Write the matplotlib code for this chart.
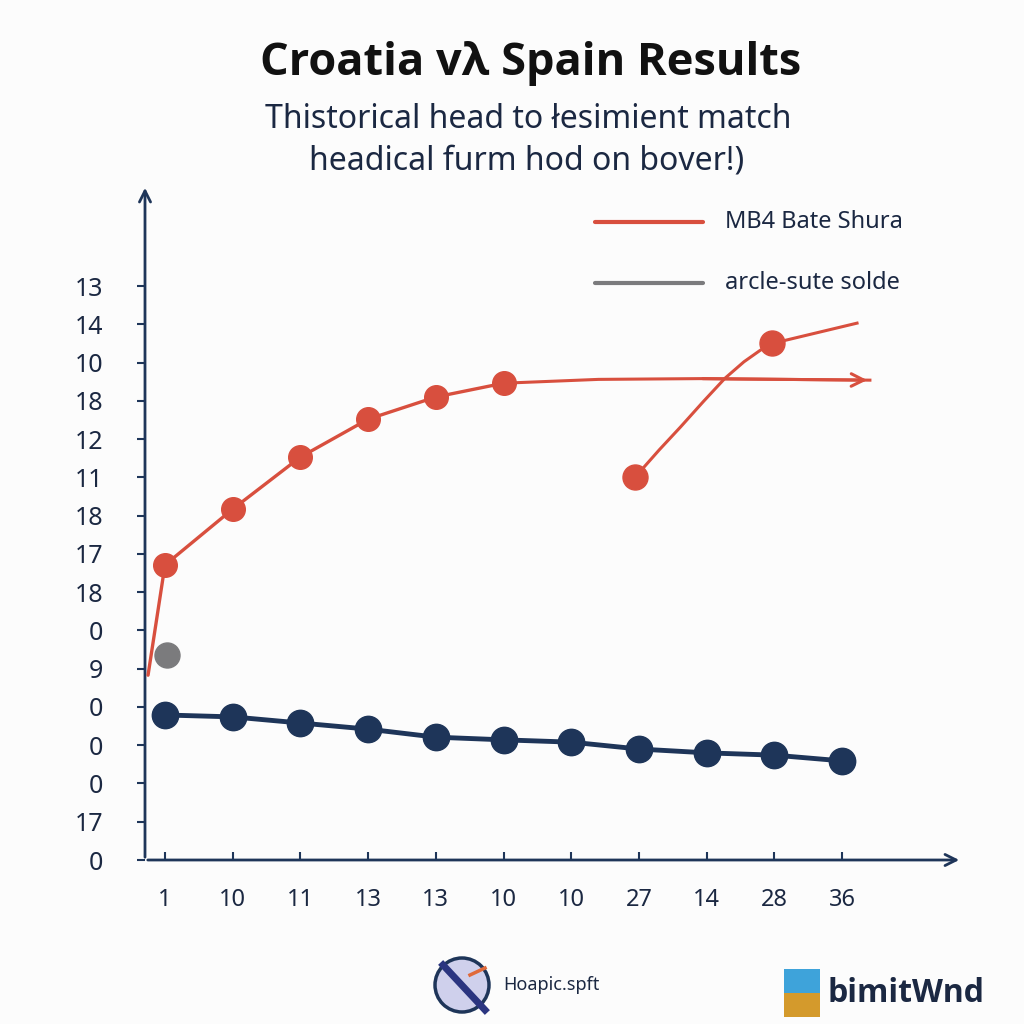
import matplotlib
matplotlib.use("Agg")
import matplotlib.pyplot as plt
from matplotlib.patches import Circle, Rectangle

# ---- data ----
x_labels = ["1", "10", "11", "13", "13", "10", "10", "27", "14", "28", "36"]
y_labels = ["0", "17", "0", "0", "0", "9", "0", "18", "17", "18", "11", "12", "18", "10", "14", "13"]

red_x = [-0.25, 0, 1, 2, 3, 4, 5]
red_y = [4.83, 7.71, 9.17, 10.53, 11.52, 12.10, 12.46]
red_tail_x = [5, 6.4, 7.9, 10.41]
red_tail_y = [12.46, 12.56, 12.58, 12.54]
red_marker_x = [0, 1, 2, 3, 4, 5]
red_marker_y = [7.71, 9.17, 10.53, 11.52, 12.10, 12.46]

red2_x = [6.94, 7.3, 7.61, 7.95, 8.27, 8.55, 8.79, 8.97, 10.22]
red2_y = [10.0, 10.72, 11.31, 11.98, 12.59, 13.02, 13.32, 13.5, 14.03]
red2_marker_x = [6.94, 8.97]
red2_marker_y = [10.0, 13.5]

gray_x = [0.03]
gray_y = [5.36]

navy_x = list(range(11))
navy_y = [3.79, 3.74, 3.58, 3.42, 3.21, 3.14, 3.08, 2.90, 2.80, 2.74, 2.59]

legend_labels = ["MB4 Bate Shura", "arcle-sute solde"]

RED = "#d84f3e"
NAVY = "#1e3559"
GRAY = "#7b7b7d"
TXT = "#1b2842"

plt.rcParams['font.family'] = ['Noto Sans', 'DejaVu Sans']

W = 1024
fig = plt.figure(figsize=(10.24, 10.24), dpi=100, facecolor="#fcfcfc")

def fx(px):
    return px / W

def fy(py):
    return 1 - py / W

# axes spanning px x 145..962, y 185..860
ax = fig.add_axes([fx(145), fy(860), fx(962) - fx(145), fy(185) - fy(860)])
ax.set_facecolor("none")
ax.set_xlim(-0.295, 11.77)
ax.set_ylim(0, 17.64)
for s in ax.spines.values():
    s.set_visible(False)

ax.annotate("", xy=(1, 0), xytext=(0, 0), xycoords="axes fraction",
            arrowprops=dict(arrowstyle="->,head_length=0.8,head_width=0.4", color=NAVY, lw=2))
ax.annotate("", xy=(0, 1), xytext=(0, 0), xycoords="axes fraction",
            arrowprops=dict(arrowstyle="->,head_length=0.8,head_width=0.4", color=NAVY, lw=2))

ax.set_xticks(range(len(x_labels)))
ax.set_xticklabels(x_labels)
ax.set_yticks(range(len(y_labels)))
ax.set_yticklabels(y_labels)
ax.tick_params(axis="x", length=6, width=1.5, color=NAVY, direction="in", pad=20,
               labelsize=17, labelcolor=TXT)
ax.tick_params(axis="y", length=6, width=1.5, color=NAVY, direction="out", pad=24,
               labelsize=18, labelcolor=TXT)

# red series
ax.plot(red_x, red_y, color=RED, lw=2.4, solid_capstyle="round", zorder=3)
ax.plot(red_tail_x, red_tail_y, color=RED, lw=2.2, zorder=3)
ax.annotate("", xy=(red_tail_x[-1], red_tail_y[-1]), xytext=(red_tail_x[-2], red_tail_y[-2]),
            arrowprops=dict(arrowstyle="->,head_length=0.9,head_width=0.45", color=RED, lw=2.2))
ax.plot(red_marker_x, red_marker_y, "o", color=RED, ms=17, zorder=4)
ax.plot(red2_x, red2_y, color=RED, lw=2.2, zorder=3)
ax.plot(red2_marker_x, red2_marker_y, "o", color=RED, ms=18, zorder=4)

# gray point
ax.plot(gray_x, gray_y, "o", color=GRAY, ms=18, zorder=4)

# navy series
ax.plot(navy_x, navy_y, color=NAVY, lw=3.5, zorder=3)
ax.plot(navy_x, navy_y, "o", color=NAVY, ms=19, zorder=4)

# legend (manual)
fig.lines.append(plt.Line2D([fx(595), fx(703)], [fy(222), fy(222)], color=RED, lw=3,
                            solid_capstyle="round", transform=fig.transFigure))
fig.lines.append(plt.Line2D([fx(595), fx(703)], [fy(283), fy(283)], color=GRAY, lw=3,
                            solid_capstyle="round", transform=fig.transFigure))
fig.text(fx(725), fy(222), legend_labels[0], fontsize=17, color=TXT, va="center", ha="left")
fig.text(fx(725), fy(283), legend_labels[1], fontsize=17, color=TXT, va="center", ha="left")

# titles
fig.text(fx(531), fy(63), "Croatia vλ Spain Results", fontsize=32.5, fontweight="bold",
         color="#111111", ha="center", va="center", family=["Open Sans", "DejaVu Sans"])
fig.text(fx(528), fy(119), "Thistorical head to łesimient match", fontsize=23,
         color=TXT, ha="center", va="center")
fig.text(fx(527), fy(161), "headical furm hod on bover!)", fontsize=23,
         color=TXT, ha="center", va="center")

# bottom logos
c = Circle((fx(462), fy(985)), 27 / W, transform=fig.transFigure, facecolor="#cfd0ec",
           edgecolor=NAVY, lw=2.5)
fig.patches.append(c)
fig.lines.append(plt.Line2D([fx(443), fx(485)], [fy(965), fy(1010)], color="#2b3580", lw=5,
                            transform=fig.transFigure))
fig.lines.append(plt.Line2D([fx(470), fx(485)], [fy(975), fy(968)], color="#e06a3a", lw=2.5,
                            transform=fig.transFigure))
fig.text(fx(503), fy(985), "Hoapic.spft", fontsize=13, color=TXT, ha="left", va="center")

fig.patches.append(Rectangle((fx(784), fy(993)), 36 / W, 24 / W, transform=fig.transFigure,
                             facecolor="#3ea3da", edgecolor="none"))
fig.patches.append(Rectangle((fx(784), fy(1017)), 36 / W, 24 / W, transform=fig.transFigure,
                             facecolor="#d49a2c", edgecolor="none"))
fig.text(fx(828), fy(993), "bimitWnd", fontsize=23, fontweight="bold", color=TXT,
         ha="left", va="center", family=["Open Sans", "DejaVu Sans"])

fig.savefig("out.png", dpi=100, facecolor=fig.get_facecolor())
